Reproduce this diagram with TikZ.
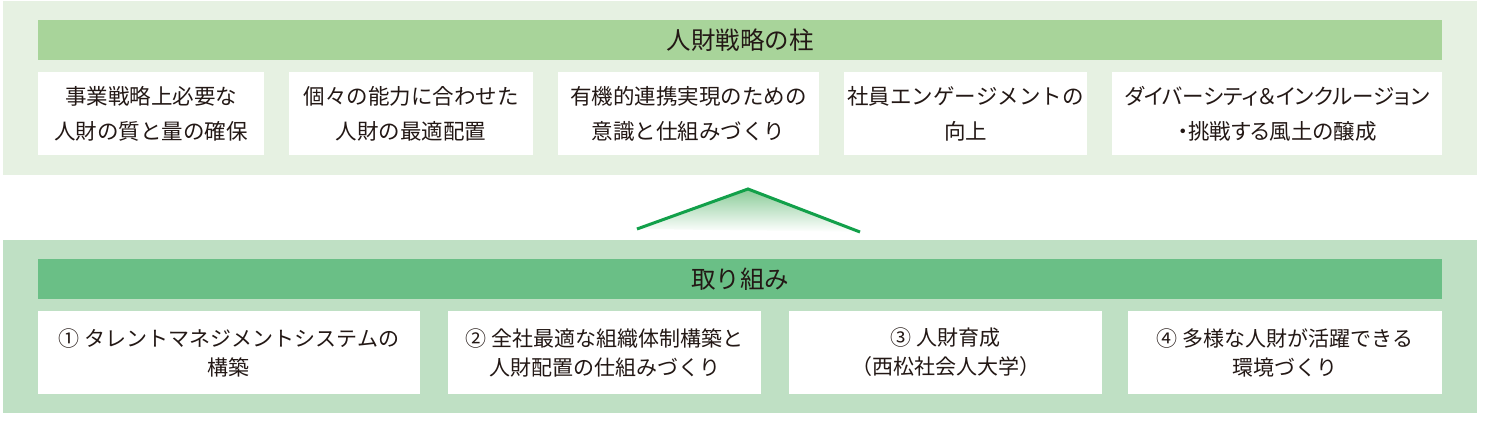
\documentclass[tikz,border=0pt]{standalone}
\usepackage{fontspec}
\setmainfont{Noto Sans CJK JP}
\newfontfamily\jpprop[RawFeature=+palt]{Noto Sans CJK JP}
\usetikzlibrary{positioning}

\definecolor{pillarbg}{HTML}{E6F1E2}
\definecolor{pillarhd}{HTML}{A8D49A}
\definecolor{actionbg}{HTML}{BFE0C4}
\definecolor{actionhd}{HTML}{6ABF86}
\definecolor{roofline}{HTML}{12A04A}
\definecolor{rooffill}{HTML}{8ACB98}
\definecolor{ink}{HTML}{231815}

\begin{document}
\begin{tikzpicture}[x=1pt, y=-1pt,
every node/.style={text=ink},
panel/.style={inner sep=0, outer sep=0, anchor=north west, minimum width=1474pt},
header/.style={inner sep=0, outer sep=0, anchor=north west, minimum width=1404pt, minimum height=40pt, font=\fontsize{24.5}{28}\selectfont},
cell/.style={rectangle, fill=white, inner sep=0, outer sep=0, align=center, minimum height=83pt},
pillar/.style={cell, font=\fontsize{21.5}{35}\selectfont},
action/.style={cell, font=\fontsize{21}{29}\selectfont},
roof/.style={draw=roofline, line width=3pt, line join=miter}
]
\useasboundingbox (0,0) rectangle (1486,422);

% upper block
\node [panel, fill=pillarbg, minimum height=174pt] (pillars) at (3,1) {};
\node [header, fill=pillarhd] (pillarhead) at (38,20) {人財戦略の柱};

\node [pillar, minimum width=226pt, below right=12pt and 0pt of pillarhead.south west, anchor=north west] (p1) {事業戦略上必要な\\人財の質と量の確保};
\node [pillar, minimum width=244pt] (p2) [right=25pt of p1] {個々の能力に合わせた\\人財の最適配置};
\node [pillar, minimum width=261pt] (p3) [right=25pt of p2] {有機的連携実現のための\\意識と仕組みづくり};
\node [pillar, minimum width=243pt] (p4) [right=25pt of p3] {社員エンゲージメントの\\向上};
\node [pillar, minimum width=330pt] (p5) [right=25pt of p4] {\jpprop ダイバーシティ＆インクルージョン\\\jpprop ・挑戦する風土の醸成};

% roof
\coordinate (roofL) at (637,229);
\coordinate (roofT) at (748,189);
\coordinate (roofR) at (860,232);
\shade [top color=rooffill, bottom color=white] (roofL) -- (roofT) -- (roofR) -- cycle;
\draw [roof] (roofL) -- (roofT) -- (roofR);

% lower block
\node [panel, fill=actionbg, minimum height=173pt] (actions) at (3,240) {};
\node [header, fill=actionhd] (actionhead) at (38,259) {取り組み};

\node [action, minimum width=382pt, below right=12pt and 0pt of actionhead.south west, anchor=north west] (a1) {① タレントマネジメントシステムの\\構築};
\node [action, minimum width=313pt] (a2) [right=28pt of a1] {② 全社最適な組織体制構築と\\人財配置の仕組みづくり};
\node [action, minimum width=313pt] (a3) [right=28pt of a2] {③ 人財育成\\（西松社会人大学）};
\node [action, minimum width=314pt] (a4) [right=26pt of a3] {④ 多様な人財が活躍できる\\環境づくり};

\end{tikzpicture}
\end{document}
